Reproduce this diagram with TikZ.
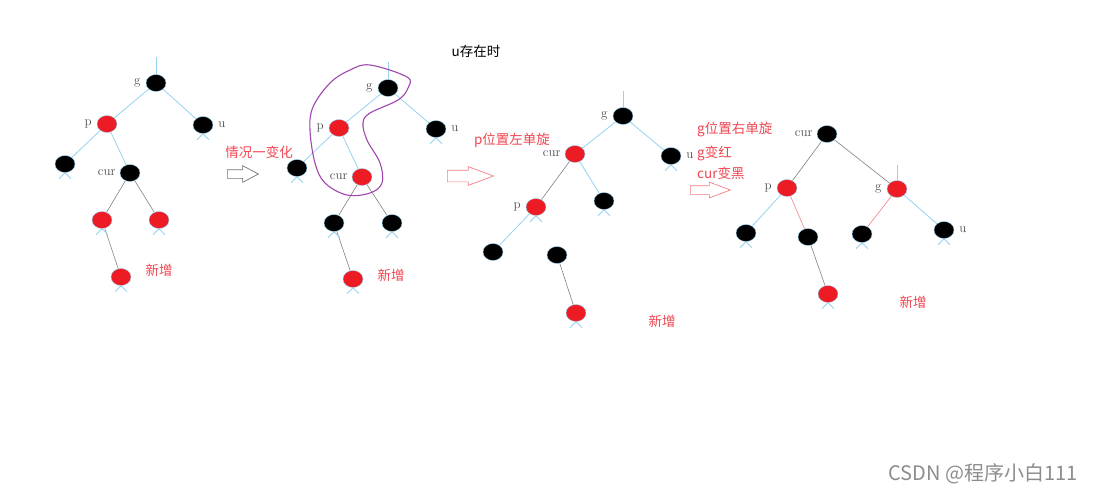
\documentclass[tikz,border=0pt]{standalone}
\usepackage{fontspec}
\newfontfamily\cjk{Noto Sans CJK SC}
\usepackage{tikz}
\usetikzlibrary{positioning, shapes.geometric, shapes.arrows, backgrounds}
\definecolor{rbred}{RGB}{237,28,36}
\definecolor{txtred}{RGB}{240,70,80}
\definecolor{edgeblue}{RGB}{150,210,240}
\definecolor{loopviolet}{RGB}{160,70,175}
\newcommand{\tails}[1]{\draw[be] (#1.south) -- ++(-6,6) (#1.south) -- ++(6,6);}

\begin{document}
\begin{tikzpicture}[x=1pt, y=-1pt,
  bnode/.style={ellipse, fill=black, draw=edgeblue, line width=0.4pt,
                minimum width=20pt, minimum height=17pt, inner sep=0pt},
  rnode/.style={bnode, fill=rbred},
  lbl/.style={font=\rmfamily\fontsize{13}{13}\selectfont, text=black!70, inner sep=0pt},
  cn/.style={font=\cjk\fontsize{13.5}{16}\selectfont, text=txtred, inner sep=0pt},
  be/.style={edgeblue, line width=0.8pt},
  ge/.style={gray, line width=0.6pt},
  pe/.style={rbred!50, line width=0.7pt},
  harrow/.style={single arrow, draw, fill=white, line width=0.7pt, anchor=tail}]
  \useasboundingbox (0,0) rectangle (1093,493);

  % tree 1: before
  \node[bnode] (t1g) at (156,83) {};
  \node[rnode] (t1p) at (107,124) {};
  \node[bnode] (t1u) at (203,125) {};
  \node[bnode] (t1pl) at (65,164) {};
  \node[bnode] (t1c) at (130,173) {};
  \node[rnode] (t1cl) at (102,220) {};
  \node[rnode] (t1cr) at (159,220) {};
  \node[rnode] (t1n) at (121,277) {};
  \node[lbl, left=5pt of t1g] (t1gl) {g};
  \node[lbl, left=5pt of t1p] (t1pll) {p};
  \node[lbl, right=5pt of t1u] (t1ul) {u};
  \node[lbl, left=4pt of t1c] (t1cll) {cur};
  \node[cn] (t1new) at (159,270) {新增};
  \begin{scope}[on background layer]
    \draw[be] (t1g.north) -- ++(0,-17);
    \draw[be] (t1g) -- (t1p);
    \draw[be] (t1g) -- (t1u);
    \draw[be] (t1p) -- (t1pl);
    \draw[be] (t1p) -- (t1c);
    \draw[ge] (t1c) -- (t1cl);
    \draw[ge] (t1c) -- (t1cr);
    \draw[ge] (t1cl) -- (t1n);
    \tails{t1u} \tails{t1cl} \tails{t1cr} \tails{t1n} \tails{t1pl}
  \end{scope}

  \node[cn] (step1) at (259,152) {情况一变化};
  \node[harrow, draw=black!55, inner sep=4pt, minimum height=31pt, minimum width=16pt,
        single arrow head extend=4pt, single arrow tip angle=56] (a1) at (227,174) {};

  % tree 2: u exists
  \node[cn, text=black] (title) at (476,51) {u存在时};
  \node[bnode] (t2g) at (388,88) {};
  \node[rnode] (t2p) at (339,128) {};
  \node[bnode] (t2u) at (436,129) {};
  \node[bnode] (t2pl) at (297,168) {};
  \node[rnode] (t2c) at (362,177) {};
  \node[bnode] (t2cl) at (334,223) {};
  \node[bnode] (t2cr) at (392,223) {};
  \node[rnode] (t2n) at (353,279) {};
  \node[lbl, left=5pt of t2g] (t2gl) {g};
  \node[lbl, left=5pt of t2p] (t2pll) {p};
  \node[lbl, right=5pt of t2u] (t2ul) {u};
  \node[lbl, left=4pt of t2c] (t2cll) {cur};
  \node[cn] (t2new) at (391,275) {新增};
  \begin{scope}[on background layer]
    \draw[be] (t2g.north) -- ++(0,-17);
    \draw[be] (t2g) -- (t2p);
    \draw[be] (t2g) -- (t2u);
    \draw[be] (t2p) -- (t2pl);
    \draw[be] (t2p) -- (t2c);
    \draw[ge] (t2c) -- (t2cl);
    \draw[ge] (t2c) -- (t2cr);
    \draw[ge] (t2cl) -- (t2n);
    \tails{t2u} \tails{t2cl} \tails{t2cr} \tails{t2n} \tails{t2pl}
  \end{scope}
  \draw[loopviolet, line width=1.1pt] plot[smooth cycle, tension=0.6] coordinates {
    (370,65) (407,77) (408,88) (398,100) (370,113) (363,123) (367,140)
    (380,163) (382,183) (370,193) (347,195) (325,183) (315,163) (310,130)
    (313,107) (330,83) (350,70)};

  \node[cn] (step2) at (512,140) {p位置左单旋};
  \node[harrow, draw=txtred!70, inner sep=5.5pt, minimum height=46pt, minimum width=18pt,
        single arrow head extend=3.5pt, single arrow tip angle=41] (a2) at (447,176) {};

  % tree 3: after left rotation at p
  \node[bnode] (t3g) at (623,116) {};
  \node[rnode] (t3c) at (575,154) {};
  \node[bnode] (t3u) at (671,156) {};
  \node[rnode] (t3p) at (536,207) {};
  \node[bnode] (t3cr) at (604,201) {};
  \node[bnode] (t3pl) at (493,252) {};
  \node[bnode] (t3pr) at (557,255) {};
  \node[rnode] (t3n) at (576,313) {};
  \node[lbl, left=5pt of t3g] (t3gl) {g};
  \node[lbl, left=4pt of t3c] (t3cll) {cur};
  \node[lbl, right=5pt of t3u] (t3ul) {u};
  \node[lbl, left=5pt of t3p] (t3pll) {p};
  \node[cn] (t3new) at (662,321) {新增};
  \begin{scope}[on background layer]
    \draw[be] (t3g.north) -- ++(0,-16);
    \draw[be] (t3g) -- (t3c);
    \draw[be] (t3g) -- (t3u);
    \draw[ge] (t3c) -- (t3p);
    \draw[be] (t3c) -- (t3cr);
    \draw[be] (t3p) -- (t3pl);
    \draw[ge] (t3pr) -- (t3n);
    \tails{t3u} \tails{t3p} \tails{t3cr} \tails{t3n}
  \end{scope}

  \node[cn, anchor=west] (step3) at (697,129) {g位置右单旋};
  \node[cn, anchor=west] (step3b) at (697,153) {g变红};
  \node[cn, anchor=west] (step3c) at (697,173) {cur变黑};
  \node[harrow, draw=txtred!70, inner sep=4pt, minimum height=40pt, minimum width=15pt,
        single arrow head extend=3.5pt, single arrow tip angle=41] (a3) at (690,190) {};

  % tree 4: after right rotation at g
  \node[bnode] (t4c) at (827,134) {};
  \node[rnode] (t4p) at (787,188) {};
  \node[rnode] (t4g) at (897,189) {};
  \node[bnode] (t4pl) at (746,233) {};
  \node[bnode] (t4pr) at (808,237) {};
  \node[bnode] (t4gl) at (862,234) {};
  \node[bnode] (t4u) at (944,230) {};
  \node[rnode] (t4n) at (828,294) {};
  \node[lbl, left=4pt of t4c] (t4cll) {cur};
  \node[lbl, left=5pt of t4p] (t4pll) {p};
  \node[lbl, left=5pt of t4g] (t4gll) {g};
  \node[lbl, right=5pt of t4u] (t4ul) {u};
  \node[cn] (t4new) at (913,302) {新增};
  \begin{scope}[on background layer]
    \draw[be] (t4g.north) -- ++(0,-15);
    \draw[ge] (t4c) -- (t4p);
    \draw[ge] (t4c) -- (t4g);
    \draw[be] (t4p) -- (t4pl);
    \draw[pe] (t4p) -- (t4pr);
    \draw[pe] (t4g) -- (t4gl);
    \draw[be] (t4g) -- (t4u);
    \draw[ge] (t4pr) -- (t4n);
    \tails{t4u} \tails{t4pl} \tails{t4gl} \tails{t4n}
  \end{scope}

  \node[font=\cjk\fontsize{20}{20}\selectfont, text=black!45, inner sep=0pt] (wm) at (983,474) {CSDN @程序小白111};
\end{tikzpicture}
\end{document}
